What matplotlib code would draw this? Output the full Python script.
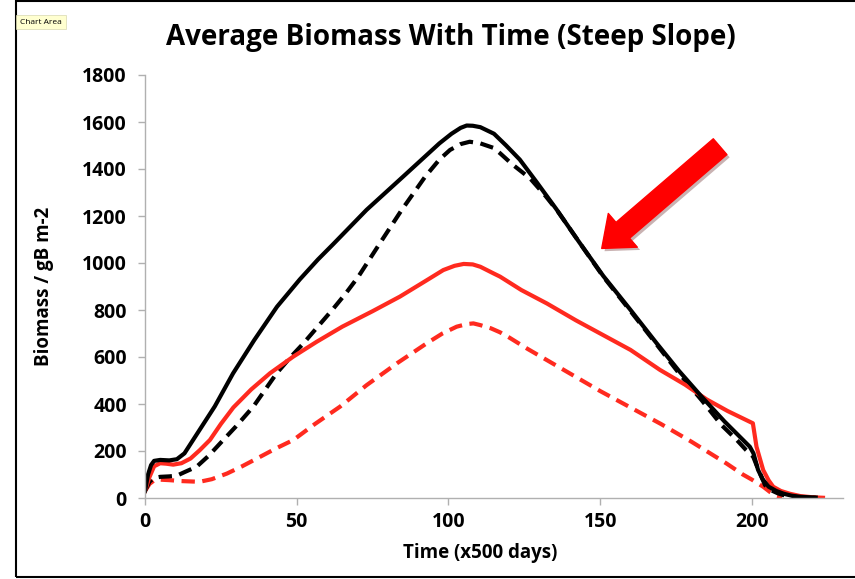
import matplotlib.pyplot as plt
from matplotlib.patches import FancyArrowPatch, Rectangle
from matplotlib import patheffects as pe

plt.rcParams['font.family'] = ['Open Sans', 'DejaVu Sans']
plt.rcParams['font.weight'] = 'bold'

# values (time in x500 days, biomass in gB m-2)
black_solid_t = [0, 1, 2, 3, 5, 8, 10.5, 13, 16, 19.5, 23, 29, 36, 43.5, 51, 57, 62, 73, 85, 97,
                 101, 104, 106, 108, 110.5, 115, 119, 123.5, 129, 135.5, 143, 151, 160, 168.5,
                 176, 183.5, 191, 199.3, 200.5, 202, 203.5, 205.5, 208, 210.5, 213, 216, 221]
black_solid_b = [30, 100, 140, 158, 162, 160, 165, 190, 250, 320, 390, 530, 672, 814, 930, 1015,
                 1080, 1226, 1367, 1509, 1550, 1575, 1585, 1584, 1578, 1550, 1500, 1440, 1345,
                 1230, 1090, 945, 800, 660, 540, 430, 325, 218, 190, 120, 80, 48, 30, 18, 10, 5, 2]

black_dash_t = [0, 1.5, 3, 5, 8, 10.5, 13, 17, 21, 25.8, 30, 35.7, 43.4, 48, 52, 57, 62, 66, 70.3,
                77.4, 84.6, 92.3, 97, 100.5, 104, 107, 110.5, 114.8, 117, 121, 126.9, 132, 136,
                143, 151, 160, 168.5, 176, 183.5, 190, 195, 198, 200.4, 201.5, 202.5, 204.3, 206,
                208.5, 211, 215, 221]
black_dash_b = [30, 70, 85, 90, 92, 95, 110, 133, 180, 247, 305, 389, 531, 600, 655, 730, 805, 868,
                942, 1084, 1226, 1367, 1440, 1481, 1506, 1516, 1509, 1490, 1467, 1420, 1360, 1285,
                1220, 1090, 942, 795, 655, 530, 415, 310, 247, 205, 176, 140, 110, 55, 35, 20, 10,
                4, 2]

red_solid_t = [0, 1.5, 3, 5, 7, 9.3, 12, 15, 18, 21.4, 25, 29.1, 35, 41.2, 48.9, 56.6, 65, 75, 84,
               92, 98.3, 102, 105, 108, 110.5, 114.8, 117, 124, 132.4, 142, 152, 160, 169.7, 178,
               185, 192, 200.3, 201.5, 203.7, 205.5, 207, 209.5, 212.5, 216, 220, 223.4]
red_solid_b = [30, 90, 135, 148, 146, 142, 148, 168, 203, 247, 315, 385, 462, 531, 602, 665, 729,
               795, 857, 920, 970, 988, 996, 994, 984, 956, 942, 885, 828, 756, 686, 630, 545, 482,
               420, 370, 318, 218, 119, 75, 48, 30, 18, 8, 3, 1]

red_dash_t = [0, 1.5, 3, 5, 8, 12, 18, 22, 27, 32, 37.9, 43, 48.9, 56, 64.3, 73, 83, 92.8, 98,
              102.7, 106, 108.2, 110.4, 114, 117, 120, 126, 132.4, 140, 150, 161, 170, 180, 191.6,
              197, 200, 203.7, 206, 208, 210]
red_dash_b = [30, 60, 75, 78, 76, 72, 69, 80, 104, 135, 175, 210, 247, 315, 389, 480, 573, 658,
              700, 729, 740, 743, 736, 722, 705, 683, 635, 587, 530, 455, 378, 315, 240, 147, 100,
              78, 48, 25, 10, 3]

x_ticks = [0, 50, 100, 150, 200]
y_ticks = [0, 200, 400, 600, 800, 1000, 1200, 1400, 1600, 1800]

fig = plt.figure(figsize=(8.55, 5.79), dpi=100)
ax = fig.add_axes([145 / 855, 81 / 579, 698 / 855, 423 / 579])

red = '#ff2a1f'
ax.plot(red_dash_t, red_dash_b, color=red, lw=3, dashes=(3.2, 1.8))
ax.plot(black_dash_t, black_dash_b, color='black', lw=3, dashes=(3.2, 1.8))
ax.plot(red_solid_t, red_solid_b, color=red, lw=3)
ax.plot(black_solid_t, black_solid_b, color='black', lw=3)

ax.set_xlim(0, 230)
ax.set_ylim(0, 1800)
ax.set_xticks(x_ticks)
ax.set_yticks(y_ticks)
for s in ['top', 'right']:
    ax.spines[s].set_visible(False)
for s in ['left', 'bottom']:
    ax.spines[s].set_color('#b0b0b0')
    ax.spines[s].set_linewidth(1)
ax.tick_params(colors='#b0b0b0', labelcolor='black', length=5, width=1, labelsize=14)
ax.tick_params(axis='y', pad=8)
ax.tick_params(axis='x', pad=5)

ax.set_xlabel('Time (x500 days)', fontsize=13.5, fontweight='bold')
ax.set_ylabel('Biomass / gB m-2', fontsize=13.5, fontweight='bold')
ax.xaxis.set_label_coords(0.48, -0.13)
ax.xaxis.label.set_va('center')
ax.yaxis.set_label_coords(-0.145, 0.5)
ax.yaxis.label.set_va('center')

fig.text(451 / 855, 1 - 38 / 579, 'Average Biomass With Time (Steep Slope)',
         ha='center', va='center', fontsize=20, fontweight='bold')

# big red arrow pointing at the black curves
arrow = FancyArrowPatch((189.5, 1495), (150.5, 1062), color='#ff0000',
                        arrowstyle='simple,head_length=1.0,head_width=1.6,tail_width=0.75',
                        mutation_scale=20, shrinkA=0, shrinkB=0, zorder=5,
                        path_effects=[pe.SimplePatchShadow(offset=(2, -2), alpha=0.3), pe.Normal()])
ax.add_patch(arrow)

# chart-area frame and tooltip
fig.add_artist(Rectangle((16 / 855, 2 / 579), 1.2, 576 / 579, transform=fig.transFigure,
                         fill=False, edgecolor='black', lw=1.5))
fig.text(41 / 855, 1 - 22 / 579, 'Chart Area', ha='center', va='center', fontsize=6,
         fontweight='normal',
         bbox=dict(boxstyle='square,pad=0.45', facecolor='#ffffd0', edgecolor='#d8d8b0', lw=0.5))

fig.savefig('out.png', dpi=100)
